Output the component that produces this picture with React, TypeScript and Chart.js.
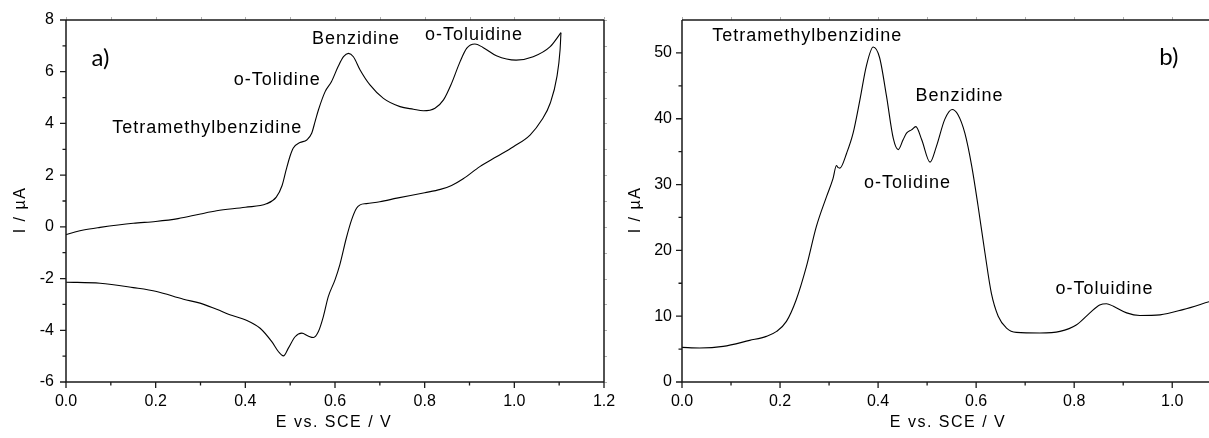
import React, { useEffect, useRef } from "react";
import { Chart, registerables } from "chart.js";

Chart.register(...registerables);

// ---------- Panel a) cyclic voltammogram ----------
const cvForwardE = [0.0, 0.02, 0.039, 0.076, 0.15, 0.2, 0.25, 0.3, 0.336, 0.4, 0.447, 0.469, 0.482, 0.491, 0.5, 0.507, 0.522, 0.537, 0.548, 0.556, 0.563, 0.578, 0.592, 0.607, 0.619, 0.63, 0.641, 0.656, 0.678, 0.708, 0.745, 0.775, 0.797, 0.823, 0.842, 0.86, 0.879, 0.894, 0.912, 0.93, 0.96, 1.004, 1.042, 1.08, 1.104];
const cvForwardI = [-0.3, -0.2, -0.12, -0.02, 0.14, 0.21, 0.32, 0.5, 0.62, 0.76, 0.89, 1.15, 1.6, 2.2, 2.75, 3.05, 3.26, 3.36, 3.62, 4.1, 4.52, 5.23, 5.61, 6.2, 6.58, 6.71, 6.58, 6.07, 5.49, 4.97, 4.65, 4.55, 4.49, 4.59, 4.91, 5.55, 6.39, 6.91, 7.07, 6.94, 6.62, 6.45, 6.58, 6.97, 7.51];
const cvReverseE = [1.104, 1.102, 1.095, 1.08, 1.061, 1.035, 0.998, 0.96, 0.923, 0.886, 0.86, 0.835, 0.8, 0.738, 0.7, 0.67, 0.656, 0.648, 0.637, 0.625, 0.611, 0.6, 0.585, 0.574, 0.563, 0.552, 0.54, 0.526, 0.511, 0.496, 0.485, 0.474, 0.459, 0.433, 0.401, 0.371, 0.336, 0.299, 0.262, 0.202, 0.15, 0.076, 0.0];
const cvReverseI = [7.51, 6.84, 5.81, 4.78, 4.13, 3.55, 3.1, 2.71, 2.33, 1.86, 1.6, 1.45, 1.32, 1.11, 0.97, 0.9, 0.85, 0.72, 0.27, -0.45, -1.45, -2.05, -2.7, -3.47, -4.05, -4.28, -4.22, -4.11, -4.25, -4.69, -4.99, -4.83, -4.44, -3.92, -3.6, -3.43, -3.19, -2.95, -2.8, -2.5, -2.35, -2.18, -2.14];

const leftXMajor = [0, 0.2, 0.4, 0.6, 0.8, 1.0, 1.2];
const leftXMinor = [0.1, 0.3, 0.5, 0.7, 0.9, 1.1];
const leftYMajor = [-6, -4, -2, 0, 2, 4, 6, 8];
const leftYMinor = [-5, -3, -1, 1, 3, 5, 7];
const leftLabels = ["Tetramethylbenzidine", "o-Tolidine", "Benzidine", "o-Toluidine"];
const leftLabelE = [0.315, 0.471, 0.647, 0.91];
const leftLabelI = [3.82, 5.68, 7.25, 7.42];

// ---------- Panel b) differential pulse voltammogram ----------
const dpvE = [0.0, 0.036, 0.084, 0.138, 0.172, 0.193, 0.213, 0.233, 0.254, 0.274, 0.295, 0.308, 0.315, 0.318, 0.322, 0.336, 0.349, 0.363, 0.376, 0.39, 0.403, 0.417, 0.431, 0.441, 0.451, 0.458, 0.468, 0.477, 0.489, 0.506, 0.519, 0.536, 0.551, 0.563, 0.577, 0.591, 0.604, 0.618, 0.631, 0.645, 0.662, 0.682, 0.73, 0.771, 0.805, 0.832, 0.852, 0.866, 0.88, 0.907, 0.934, 0.975, 1.022, 1.075];
const dpvI = [5.26, 5.17, 5.41, 6.32, 6.93, 7.69, 9.21, 12.5, 17.6, 23.6, 28.2, 30.9, 32.9, 32.6, 32.5, 34.8, 37.8, 42.9, 48.0, 50.9, 49.3, 43.5, 37.0, 35.3, 36.8, 37.8, 38.3, 38.8, 36.8, 33.4, 35.8, 39.9, 41.4, 40.6, 37.8, 32.8, 26.7, 19.6, 13.5, 10.0, 8.2, 7.54, 7.45, 7.69, 8.71, 10.5, 11.7, 11.9, 11.5, 10.5, 10.1, 10.2, 11.0, 12.2];

const rightXMajor = [0, 0.2, 0.4, 0.6, 0.8, 1.0];
const rightXMinor = [0.1, 0.3, 0.5, 0.7, 0.9];
const rightYMajor = [0, 10, 20, 30, 40, 50];
const rightYMinor = [5, 15, 25, 35, 45];
const rightLabels = ["Tetramethylbenzidine", "o-Tolidine", "Benzidine", "o-Toluidine"];
const rightLabelE = [0.2555, 0.46, 0.566, 0.862];
const rightLabelI = [52.6, 30.3, 43.4, 14.2];

const xTitle = "E vs. SCE / V";
const yTitle = "I / \u00b5A";

const FONT = "'Liberation Sans', Arial, sans-serif";

function pts(xs: number[], ys: number[]) {
  return xs.map((x, i) => ({ x, y: ys[i] }));
}

type PanelCfg = {
  xMajor: number[];
  xMinor: number[];
  yMajor: number[];
  yMinor: number[];
  labels: string[];
  labelE: number[];
  labelI: number[];
  tag: string;
  tagE: number;
  tagI: number;
  rightBorder: boolean;
  xTitleX: number;
  yTitleX: number;
  yTitleY: number;
};

function decorPlugin(cfg: PanelCfg) {
  return {
    id: "decor",
    afterDraw(chart: any) {
      const ctx: CanvasRenderingContext2D = chart.ctx;
      const { left, right, top, bottom } = chart.chartArea;
      const xs = chart.scales.x;
      const ys = chart.scales.y;
      ctx.save();
      // faint outward ticks on top/right
      ctx.strokeStyle = "#b0b0b0";
      ctx.lineWidth = 1;
      ctx.beginPath();
      [...cfg.xMajor, ...cfg.xMinor].forEach((v) => {
        const px = Math.round(xs.getPixelForValue(v)) + 0.5;
        ctx.moveTo(px, top);
        ctx.lineTo(px, top - 3);
      });
      if (cfg.rightBorder) {
        [...cfg.yMajor, ...cfg.yMinor].forEach((v) => {
          const py = Math.round(ys.getPixelForValue(v)) + 0.5;
          ctx.moveTo(right, py);
          ctx.lineTo(right + 3, py);
        });
      }
      ctx.stroke();

      // frame
      ctx.strokeStyle = "#1a1a1a";
      ctx.lineWidth = 1.5;
      ctx.beginPath();
      ctx.moveTo(left, top);
      ctx.lineTo(cfg.rightBorder ? right : right + 20, top);
      ctx.moveTo(left, top);
      ctx.lineTo(left, bottom);
      ctx.lineTo(cfg.rightBorder ? right : right + 20, bottom);
      if (cfg.rightBorder) {
        ctx.moveTo(right, top);
        ctx.lineTo(right, bottom);
      }
      ctx.stroke();

      // ticks
      ctx.lineWidth = 1.3;
      ctx.beginPath();
      cfg.xMajor.forEach((v) => {
        const px = xs.getPixelForValue(v);
        ctx.moveTo(px, bottom);
        ctx.lineTo(px, bottom + 6);
      });
      cfg.xMinor.forEach((v) => {
        const px = xs.getPixelForValue(v);
        ctx.moveTo(px, bottom);
        ctx.lineTo(px, bottom + 3.5);
      });
      cfg.yMajor.forEach((v) => {
        const py = ys.getPixelForValue(v);
        ctx.moveTo(left, py);
        ctx.lineTo(left - 6, py);
      });
      cfg.yMinor.forEach((v) => {
        const py = ys.getPixelForValue(v);
        ctx.moveTo(left, py);
        ctx.lineTo(left - 3.5, py);
      });
      ctx.stroke();

      // annotations
      ctx.fillStyle = "#000";
      ctx.textAlign = "center";
      ctx.textBaseline = "middle";
      ctx.font = `18px ${FONT}`;
      (ctx as any).letterSpacing = "1px";
      cfg.labels.forEach((t, i) => {
        ctx.fillText(t, xs.getPixelForValue(cfg.labelE[i]), ys.getPixelForValue(cfg.labelI[i]));
      });
      (ctx as any).letterSpacing = "0px";
      ctx.font = `24px Lato, 'Open Sans', sans-serif`;
      ctx.fillText(cfg.tag, xs.getPixelForValue(cfg.tagE), ys.getPixelForValue(cfg.tagI));

      // axis titles
      ctx.font = `16px ${FONT}`;
      (ctx as any).letterSpacing = "1.5px";
      ctx.fillText(xTitle, cfg.xTitleX, 423);
      ctx.save();
      ctx.translate(cfg.yTitleX, cfg.yTitleY);
      ctx.rotate(-Math.PI / 2);
      ctx.fillText(yTitle, 0, 0);
      ctx.restore();
      (ctx as any).letterSpacing = "0px";
      ctx.restore();
    },
  };
}

function makeChart(
  canvas: HTMLCanvasElement,
  datasets: any[],
  xRange: [number, number],
  yRange: [number, number],
  xStep: number,
  yStep: number,
  yAxisWidth: number,
  rightPad: number,
  yPad: number,
  cfg: PanelCfg
) {
  return new Chart(canvas, {
    type: "scatter",
    data: { datasets },
    options: {
      responsive: false,
      maintainAspectRatio: false,
      animation: false,
      events: [],
      layout: { padding: { left: 0, top: 20, right: rightPad, bottom: 0 } },
      plugins: { legend: { display: false }, tooltip: { enabled: false } },
      scales: {
        x: {
          type: "linear",
          position: "bottom",
          min: xRange[0],
          max: xRange[1],
          afterFit: (s: any) => {
            s.height = 56;
            s.paddingLeft = 0;
            s.paddingRight = 0;
          },
          grid: { display: false, drawTicks: false },
          border: { display: false },
          ticks: {
            stepSize: xStep,
            includeBounds: false,
            autoSkip: false,
            maxRotation: 0,
            padding: 10,
            color: "#000",
            font: { family: FONT, size: 16 },
            callback: (v: any) => Number(v).toFixed(1),
          },
        },
        y: {
          type: "linear",
          min: yRange[0],
          max: yRange[1],
          afterFit: (s: any) => {
            s.width = yAxisWidth;
            s.paddingTop = 0;
            s.paddingBottom = 0;
          },
          grid: { display: false, drawTicks: false },
          border: { display: false },
          ticks: {
            stepSize: yStep,
            includeBounds: false,
            autoSkip: false,
            padding: yPad,
            color: "#000",
            font: { family: FONT, size: 16 },
            callback: (v: any) => String(Math.round(Number(v))),
          },
        },
      },
    },
    plugins: [decorPlugin(cfg)],
  });
}

const lineStyle = {
  showLine: true,
  borderColor: "#000",
  borderWidth: 1.1,
  pointRadius: 0,
  fill: false,
  cubicInterpolationMode: "monotone" as const,
};

const SPLIT = 620;

export default function App() {
  const leftRef = useRef<HTMLCanvasElement>(null);
  const rightRef = useRef<HTMLCanvasElement>(null);

  useEffect(() => {
    const left = makeChart(
      leftRef.current!,
      [
        { ...lineStyle, data: pts(cvForwardE, cvForwardI) },
        { ...lineStyle, data: pts(cvReverseE, cvReverseI) },
      ],
      [0, 1.2],
      [-6, 8],
      0.2,
      2,
      66,
      SPLIT - 604,
      12,
      {
        xMajor: leftXMajor,
        xMinor: leftXMinor,
        yMajor: leftYMajor,
        yMinor: leftYMinor,
        labels: leftLabels,
        labelE: leftLabelE,
        labelI: leftLabelI,
        tag: "a)",
        tagE: 0.077,
        tagI: 6.53,
        rightBorder: true,
        xTitleX: 334,
        yTitleX: 21,
        yTitleY: 210,
      }
    );
    const right = makeChart(
      rightRef.current!,
      [{ ...lineStyle, data: pts(dpvE, dpvI) }],
      [0, 1.075],
      [0, 55],
      0.2,
      10,
      682 - SPLIT,
      0,
      10,
      {
        xMajor: rightXMajor,
        xMinor: rightXMinor,
        yMajor: rightYMajor,
        yMinor: rightYMinor,
        labels: rightLabels,
        labelE: rightLabelE,
        labelI: rightLabelI,
        tag: "b)",
        tagE: 0.993,
        tagI: 49.3,
        rightBorder: false,
        xTitleX: 948 - SPLIT,
        yTitleX: 636 - SPLIT,
        yTitleY: 210,
      }
    );
    return () => {
      left.destroy();
      right.destroy();
    };
  }, []);

  return (
    <div style={{ position: "fixed", left: 0, top: 0, width: 1209, height: 438, background: "#fff", overflow: "hidden" }}>
      <canvas ref={leftRef} width={SPLIT} height={438} style={{ position: "absolute", left: 0, top: 0 }} />
      <canvas ref={rightRef} width={1209 - SPLIT} height={438} style={{ position: "absolute", left: SPLIT, top: 0 }} />
    </div>
  );
}
